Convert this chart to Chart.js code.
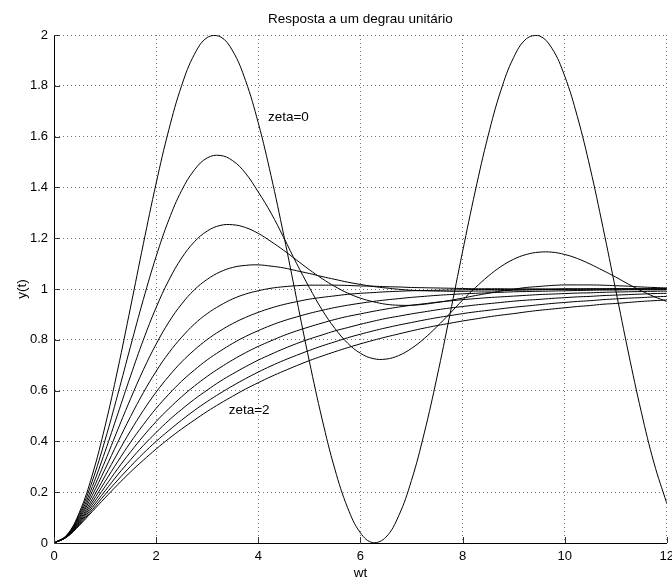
<!DOCTYPE html>
<html>
<head>
<meta charset="utf-8">
<script src="https://cdn.jsdelivr.net/npm/chart.js@4/dist/chart.umd.min.js"></script>
<style>
  html, body { margin: 0; padding: 0; background: #fff; overflow: hidden; }
  #wrap { width: 680px; height: 580px; position: relative; }
</style>
</head>
<body>
<div id="wrap"><canvas id="c"></canvas></div>
<script>
// time axis (wt), every 0.25
const wt = [0, 0.25, 0.5, 0.75, 1, 1.25, 1.5, 1.75, 2, 2.25, 2.5, 2.75, 3, 3.25, 3.5, 3.75, 4, 4.25, 4.5, 4.75,
  5, 5.25, 5.5, 5.75, 6, 6.25, 6.5, 6.75, 7, 7.25, 7.5, 7.75, 8, 8.25, 8.5, 8.75, 9, 9.25, 9.5, 9.75,
  10, 10.25, 10.5, 10.75, 11, 11.25, 11.5, 11.75, 12]

// step responses, one per damping ratio
const zeta00 = [0, 0.031, 0.122, 0.268, 0.460, 0.685, 0.929, 1.178, 1.416, 1.628, 1.801, 1.924, 1.990, 1.994, 1.937, 1.821, 1.654, 1.446, 1.211, 0.962,
  0.716, 0.488, 0.291, 0.139, 0.040, 0.001, 0.023, 0.107, 0.246, 0.432, 0.653, 0.896, 1.146, 1.386, 1.602, 1.781, 1.911, 1.985, 1.997, 1.948,
  1.839, 1.678, 1.476, 1.243, 0.996, 0.748, 0.517, 0.315, 0.156]
const zeta02 = [0, 0.030, 0.115, 0.244, 0.405, 0.586, 0.775, 0.959, 1.128, 1.273, 1.388, 1.469, 1.516, 1.526, 1.505, 1.456, 1.382, 1.299, 1.202, 1.101,
  1.006, 0.918, 0.845, 0.787, 0.747, 0.726, 0.724, 0.738, 0.766, 0.805, 0.852, 0.903, 0.956, 1.005, 1.050, 1.088, 1.117, 1.136, 1.145, 1.145,
  1.136, 1.120, 1.098, 1.073, 1.047, 1.019, 0.993, 0.970, 0.951]
const zeta04 = [0, 0.029, 0.108, 0.222, 0.360, 0.509, 0.658, 0.800, 0.927, 1.035, 1.122, 1.186, 1.228, 1.250, 1.253, 1.242, 1.219, 1.187, 1.152, 1.114,
  1.076, 1.041, 1.010, 0.984, 0.964, 0.950, 0.940, 0.936, 0.936, 0.940, 0.947, 0.955, 0.964, 0.974, 0.983, 0.992, 0.999, 1.006, 1.010, 1.014,
  1.016, 1.016, 1.016, 1.015, 1.013, 1.011, 1.008, 1.006, 1.004]
const zeta06 = [0, 0.028, 0.101, 0.204, 0.322, 0.447, 0.568, 0.682, 0.783, 0.870, 0.941, 0.997, 1.038, 1.067, 1.085, 1.093, 1.095, 1.090, 1.083, 1.072,
  1.061, 1.049, 1.038, 1.027, 1.018, 1.010, 1.004, 0.999, 0.995, 0.993, 0.992, 0.991, 0.991, 0.992, 0.992, 0.993, 0.995, 0.996, 0.997, 0.998,
  0.999, 0.999, 1.000, 1.000, 1.001, 1.001, 1.001, 1.001, 1.001]
const zeta08 = [0, 0.027, 0.096, 0.188, 0.291, 0.397, 0.498, 0.592, 0.676, 0.749, 0.810, 0.862, 0.903, 0.935, 0.961, 0.980, 0.993, 1.003, 1.009, 1.013,
  1.015, 1.015, 1.015, 1.014, 1.012, 1.011, 1.009, 1.008, 1.006, 1.005, 1.004, 1.003, 1.002, 1.001, 1.001, 1.001, 1.000, 1.000, 1.000, 1.000,
  1.000, 1.000, 1.000, 1.000, 1.000, 1.000, 1.000, 1.000, 1.000]
const zeta10 = [0, 0.026, 0.090, 0.173, 0.264, 0.355, 0.442, 0.522, 0.594, 0.657, 0.713, 0.760, 0.801, 0.835, 0.864, 0.888, 0.908, 0.925, 0.939, 0.950,
  0.960, 0.967, 0.973, 0.979, 0.983, 0.986, 0.989, 0.991, 0.993, 0.994, 0.995, 0.996, 0.997, 0.998, 0.998, 0.998, 0.999, 0.999, 0.999, 0.999,
  1.000, 1.000, 1.000, 1.000, 1.000, 1.000, 1.000, 1.000, 1.000]
const zeta12 = [0, 0.026, 0.085, 0.161, 0.242, 0.321, 0.397, 0.466, 0.530, 0.586, 0.637, 0.681, 0.721, 0.755, 0.786, 0.813, 0.836, 0.857, 0.875, 0.890,
  0.904, 0.916, 0.927, 0.936, 0.944, 0.951, 0.957, 0.962, 0.967, 0.971, 0.975, 0.978, 0.981, 0.983, 0.985, 0.987, 0.989, 0.990, 0.991, 0.992,
  0.993, 0.994, 0.995, 0.996, 0.996, 0.997, 0.997, 0.997, 0.998]
const zeta14 = [0, 0.025, 0.081, 0.150, 0.222, 0.293, 0.359, 0.421, 0.478, 0.529, 0.576, 0.618, 0.656, 0.690, 0.721, 0.749, 0.774, 0.796, 0.817, 0.835,
  0.851, 0.866, 0.880, 0.892, 0.902, 0.912, 0.921, 0.929, 0.936, 0.942, 0.948, 0.953, 0.958, 0.962, 0.966, 0.969, 0.972, 0.975, 0.978, 0.980,
  0.982, 0.984, 0.985, 0.987, 0.988, 0.989, 0.990, 0.991, 0.992]
const zeta16 = [0, 0.024, 0.077, 0.140, 0.205, 0.269, 0.328, 0.384, 0.435, 0.483, 0.526, 0.566, 0.602, 0.636, 0.666, 0.694, 0.720, 0.743, 0.765, 0.785,
  0.803, 0.819, 0.835, 0.848, 0.861, 0.873, 0.884, 0.893, 0.902, 0.910, 0.918, 0.925, 0.931, 0.937, 0.942, 0.947, 0.952, 0.956, 0.959, 0.963,
  0.966, 0.969, 0.971, 0.974, 0.976, 0.978, 0.980, 0.982, 0.983]
const zeta18 = [0, 0.024, 0.073, 0.131, 0.191, 0.248, 0.302, 0.353, 0.400, 0.443, 0.484, 0.522, 0.557, 0.589, 0.619, 0.647, 0.673, 0.697, 0.719, 0.739,
  0.758, 0.776, 0.792, 0.808, 0.822, 0.835, 0.847, 0.858, 0.868, 0.878, 0.887, 0.895, 0.903, 0.910, 0.916, 0.922, 0.928, 0.933, 0.938, 0.943,
  0.947, 0.951, 0.954, 0.958, 0.961, 0.964, 0.966, 0.969, 0.971]
const zeta20 = [0, 0.023, 0.070, 0.124, 0.178, 0.230, 0.280, 0.326, 0.370, 0.411, 0.449, 0.484, 0.518, 0.549, 0.578, 0.606, 0.631, 0.655, 0.677, 0.698,
  0.718, 0.736, 0.753, 0.769, 0.784, 0.798, 0.811, 0.823, 0.835, 0.846, 0.856, 0.865, 0.874, 0.882, 0.890, 0.897, 0.903, 0.910, 0.916, 0.921,
  0.926, 0.931, 0.935, 0.940, 0.943, 0.947, 0.951, 0.954, 0.957]

const curves = [zeta00, zeta02, zeta04, zeta06, zeta08, zeta10, zeta12, zeta14, zeta16, zeta18, zeta20]

const xTicks = [0, 2, 4, 6, 8, 10, 12]
const yTicks = [0, 0.2, 0.4, 0.6, 0.8, 1, 1.2, 1.4, 1.6, 1.8, 2]

// text labels on the plot: [text, wt, y]
const notes = [
  ['zeta=0', 4.19, 1.677],
  ['zeta=2', 3.42, 0.524]
]

const FONT = '"Liberation Sans", Arial, Helvetica, sans-serif'

const datasets = curves.map((ys, i) => ({
  label: 'zeta=' + (i * 0.2).toFixed(1),
  data: wt.map((x, j) => ({x: x, y: ys[j]})),
  borderColor: '#000',
  borderWidth: 1,
  pointRadius: 0,
  fill: false,
  tension: 0.4
}))

// MATLAB style ticks pointing into the axes + text notes
const extras = {
  id: 'extras',
  afterDraw(chart) {
    const ctx = chart.ctx
    const xs = chart.scales.x, ys = chart.scales.y
    const area = chart.chartArea
    ctx.save()
    ctx.strokeStyle = '#333'
    ctx.lineWidth = 1
    ctx.beginPath()
    xTicks.forEach(v => {
      const px = Math.round(xs.getPixelForValue(v)) + 0.5
      ctx.moveTo(px, area.bottom)
      ctx.lineTo(px, area.bottom - 6)
    })
    yTicks.forEach(v => {
      const py = Math.round(ys.getPixelForValue(v)) + 0.5
      ctx.moveTo(area.left, py)
      ctx.lineTo(area.left + 6, py)
    })
    ctx.stroke()

    ctx.fillStyle = '#000'
    ctx.font = '13.5px ' + FONT
    ctx.textAlign = 'left'
    ctx.textBaseline = 'middle'
    notes.forEach(n => {
      ctx.fillText(n[0], xs.getPixelForValue(n[1]), ys.getPixelForValue(n[2]))
    })
    ctx.restore()
  }
}

new Chart(document.getElementById('c'), {
  type: 'line',
  data: {datasets: datasets},
  plugins: [extras],
  options: {
    responsive: true,
    maintainAspectRatio: false,
    animation: false,
    events: [],
    layout: {padding: {left: 0, right: 11, top: 0, bottom: 0}},
    plugins: {
      legend: {display: false},
      tooltip: {enabled: false},
      title: {
        display: true,
        fullSize: false,
        text: 'Resposta a um degrau unitário',
        color: '#000',
        font: {family: FONT, size: 13.5, weight: 'normal', lineHeight: 1},
        padding: {top: 13, bottom: 8.5}
      }
    },
    scales: {
      x: {
        type: 'linear',
        min: 0,
        max: 12,
        afterBuildTicks: s => { s.ticks = xTicks.map(v => ({value: v})) },
        afterFit: s => { s.height = 37 },
        ticks: {
          color: '#000',
          padding: 6,
          maxRotation: 0,
          autoSkip: false,
          font: {family: FONT, size: 13},
          callback: v => String(v)
        },
        grid: {color: 'rgba(0,0,0,0.55)', drawTicks: false, lineWidth: 1},
        border: {display: true, color: '#000', width: 1, dash: [1, 3]},
        title: {
          display: true,
          text: 'wt',
          color: '#000',
          font: {family: FONT, size: 13.5, lineHeight: 1},
          padding: {top: 0, bottom: 0}
        }
      },
      y: {
        type: 'linear',
        min: 0,
        max: 2,
        afterBuildTicks: s => { s.ticks = yTicks.map(v => ({value: v})) },
        afterFit: s => { s.width = 54 },
        ticks: {
          color: '#000',
          padding: 6,
          autoSkip: false,
          font: {family: FONT, size: 13},
          callback: v => String(+v.toFixed(1))
        },
        grid: {color: 'rgba(0,0,0,0.55)', drawTicks: false, lineWidth: 1},
        border: {display: true, color: '#000', width: 1, dash: [1, 3]},
        title: {
          display: true,
          text: 'y(t)',
          color: '#000',
          font: {family: FONT, size: 13.5, lineHeight: 1},
          padding: {top: 16, bottom: 0}
        }
      }
    }
  }
})
</script>
</body>
</html>
